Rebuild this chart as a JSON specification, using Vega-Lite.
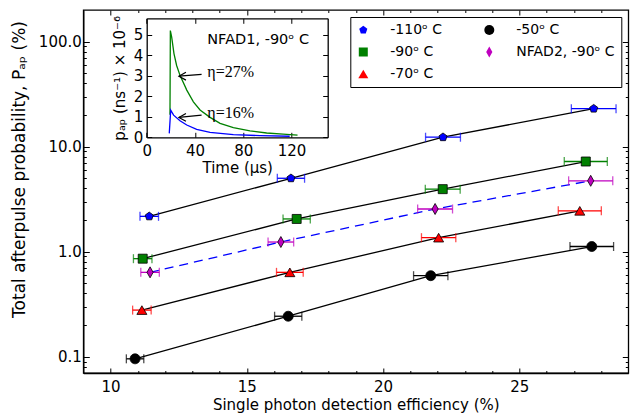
{
  "$schema": "https://vega.github.io/schema/vega-lite/v6.json",
  "width": 545,
  "height": 363,
  "autosize": {"type": "none"},
  "padding": {"left": 83.3, "top": 10, "right": 5.7, "bottom": 40},
  "background": "white",
  "config": {
    "font": "DejaVu Sans",
    "view": {"stroke": "black", "strokeWidth": 1.3},
    "axis": {
      "grid": false, "domainColor": "black", "tickColor": "black", "labelColor": "black",
      "titleColor": "black", "labelFontSize": 15, "titleFontSize": 15, "titleFontWeight": "normal",
      "domainWidth": 1.3, "tickWidth": 1, "labelFont": "DejaVu Sans", "titleFont": "DejaVu Sans",
      "labelFlush": false, "labelOverlap": false
    },
    "legend": {
      "orient": "top-right", "offset": 7, "columns": 2, "labelFontSize": 14, "labelFont": "DejaVu Sans", "labelColor": "black",
      "symbolSize": 100, "symbolStrokeColor": "black", "symbolStrokeWidth": 0.8, "strokeColor": "black", "fillColor": "white",
      "padding": 6, "labelOffset": 20, "columnPadding": 40, "rowPadding": 7, "cornerRadius": 0, "labelLimit": 300
    }
  },
  "datasets": {
    "pts": [
      {"series": "-110ᵒ C", "eff": 11.42, "pap": 2.17, "lo": 11.08, "hi": 11.76},
      {"series": "-110ᵒ C", "eff": 16.62, "pap": 5.0, "lo": 16.12, "hi": 17.12},
      {"series": "-110ᵒ C", "eff": 22.2, "pap": 12.3, "lo": 21.56, "hi": 22.84},
      {"series": "-110ᵒ C", "eff": 27.73, "pap": 23.0, "lo": 26.91, "hi": 28.55},
      {"series": "-90ᵒ C", "eff": 11.18, "pap": 0.858, "lo": 10.84, "hi": 11.52},
      {"series": "-90ᵒ C", "eff": 16.83, "pap": 2.05, "lo": 16.33, "hi": 17.33},
      {"series": "-90ᵒ C", "eff": 22.19, "pap": 3.94, "lo": 21.55, "hi": 22.83},
      {"series": "-90ᵒ C", "eff": 27.44, "pap": 7.22, "lo": 26.65, "hi": 28.23},
      {"series": "NFAD2, -90ᵒ C", "eff": 11.45, "pap": 0.636, "lo": 11.11, "hi": 11.79},
      {"series": "NFAD2, -90ᵒ C", "eff": 16.25, "pap": 1.236, "lo": 15.78, "hi": 16.72},
      {"series": "NFAD2, -90ᵒ C", "eff": 21.91, "pap": 2.55, "lo": 21.27, "hi": 22.55},
      {"series": "NFAD2, -90ᵒ C", "eff": 27.62, "pap": 4.73, "lo": 26.81, "hi": 28.43},
      {"series": "-70ᵒ C", "eff": 11.15, "pap": 0.278, "lo": 10.81, "hi": 11.49},
      {"series": "-70ᵒ C", "eff": 16.58, "pap": 0.636, "lo": 16.09, "hi": 17.07},
      {"series": "-70ᵒ C", "eff": 22.04, "pap": 1.36, "lo": 21.41, "hi": 22.67},
      {"series": "-70ᵒ C", "eff": 27.22, "pap": 2.45, "lo": 26.43, "hi": 28.01},
      {"series": "-50ᵒ C", "eff": 10.9, "pap": 0.0955, "lo": 10.58, "hi": 11.22},
      {"series": "-50ᵒ C", "eff": 16.52, "pap": 0.243, "lo": 16.02, "hi": 17.02},
      {"series": "-50ᵒ C", "eff": 21.75, "pap": 0.591, "lo": 21.12, "hi": 22.38},
      {"series": "-50ᵒ C", "eff": 27.66, "pap": 1.12, "lo": 26.86, "hi": 28.46}
    ],
    "curves": [
      {"c": "g", "t": 19.3, "v": 1.1}, {"c": "g", "t": 19.6, "v": 5.2}, {"c": "g", "t": 20.7, "v": 4.88},
      {"c": "g", "t": 22.6, "v": 4.08}, {"c": "g", "t": 24.8, "v": 3.5}, {"c": "g", "t": 27.6, "v": 3.02},
      {"c": "g", "t": 33.2, "v": 2.3}, {"c": "g", "t": 38.7, "v": 1.73}, {"c": "g", "t": 44.2, "v": 1.33},
      {"c": "g", "t": 52.5, "v": 0.97}, {"c": "g", "t": 60.8, "v": 0.68}, {"c": "g", "t": 71.8, "v": 0.47},
      {"c": "g", "t": 85.6, "v": 0.31}, {"c": "g", "t": 99.4, "v": 0.21}, {"c": "g", "t": 113, "v": 0.15},
      {"c": "g", "t": 125, "v": 0.11},
      {"c": "b", "t": 18.7, "v": 0.19}, {"c": "b", "t": 19.9, "v": 1.32}, {"c": "b", "t": 22.3, "v": 1.08},
      {"c": "b", "t": 27.6, "v": 0.81}, {"c": "b", "t": 33.2, "v": 0.6}, {"c": "b", "t": 41.4, "v": 0.39},
      {"c": "b", "t": 52.5, "v": 0.24}, {"c": "b", "t": 71.8, "v": 0.13}, {"c": "b", "t": 94, "v": 0.08},
      {"c": "b", "t": 118.5, "v": 0.05}
    ],
    "arrows": [
      {"t0": 45.5, "v0": 3.07, "t1": 26.7, "v1": 2.98},
      {"t0": 45.5, "v0": 1.08, "t1": 26.7, "v1": 0.97}
    ],
    "notes": [
      {"kind": "eta", "t": 50.2, "v": 3.17, "label": "η=27%"},
      {"kind": "eta", "t": 50.2, "v": 1.17, "label": "η=16%"},
      {"kind": "name", "t": 50.2, "v": 4.76, "label": "NFAD1, -90ᵒ C"}
    ]
  },
  "layer": [
    {
      "data": {"name": "pts"},
      "transform": [{"filter": "datum.series !== 'NFAD2, -90ᵒ C'"}],
      "mark": {"type": "line", "color": "black", "strokeWidth": 1.3},
      "encoding": {
        "x": {"field": "eff", "type": "quantitative", "scale": {"domain": [9, 29], "nice": false, "zero": false},
              "axis": {"orient": "bottom", "values": [10, 15, 20, 25], "format": "d", "tickSize": -5, "labelPadding": 11,
                       "title": "Single photon detection efficiency (%)", "titlePadding": 3}},
        "y": {"field": "pap", "type": "quantitative", "scale": {"type": "log", "domain": [0.07, 200], "nice": false},
              "axis": {"orient": "left", "values": [0.1, 1, 10, 100], "format": ".1f", "tickSize": -6, "labelPadding": 8,
                       "title": "Total afterpulse probability, Pₐₚ (%)", "titlePadding": 10, "titleFontSize": 17, "titleY": 159}},
        "detail": {"field": "series"}
      }
    },
    {
      "data": {"name": "pts"},
      "transform": [{"filter": "datum.series === 'NFAD2, -90ᵒ C'"}],
      "mark": {"type": "line", "color": "#0000ff", "strokeWidth": 1.3, "strokeDash": [9, 6]},
      "encoding": {
        "x": {"field": "eff", "type": "quantitative", "scale": {"domain": [9, 29], "nice": false, "zero": false},
              "axis": {"orient": "top", "values": [10, 15, 20, 25], "labels": false, "domain": false, "tickSize": -5, "title": null}},
        "y": {"field": "pap", "type": "quantitative", "scale": {"type": "log", "domain": [0.07, 200], "nice": false},
              "axis": {"orient": "right", "values": [0.1, 1, 10, 100], "labels": false, "domain": false, "tickSize": -6, "title": null}}
      }
    },
    {
      "data": {"name": "pts"},
      "mark": {"type": "rule", "strokeWidth": 1.3},
      "encoding": {
        "x": {"field": "lo", "type": "quantitative", "scale": {"domain": [9, 29], "nice": false, "zero": false},
              "axis": {"orient": "top", "values": [11, 12, 13, 14, 16, 17, 18, 19, 21, 22, 23, 24, 26, 27, 28], "labels": false, "domain": false, "tickSize": -2.5, "title": null}},
        "x2": {"field": "hi"},
        "y": {"field": "pap", "type": "quantitative", "scale": {"type": "log", "domain": [0.07, 200], "nice": false},
              "axis": {"orient": "right", "values": [0.08, 0.09, 0.2, 0.3, 0.4, 0.5, 0.6, 0.7, 0.8, 0.9, 2, 3, 4, 5, 6, 7, 8, 9, 20, 30, 40, 50, 60, 70, 80, 90], "labels": false, "domain": false, "tickSize": -3, "title": null}},
        "color": {"field": "series", "type": "nominal", "legend": null,
                  "scale": {"domain": ["-110ᵒ C", "-50ᵒ C", "-90ᵒ C", "NFAD2, -90ᵒ C", "-70ᵒ C"], "range": ["#0000ff", "#000000", "#008000", "#bf00bf", "#ff0000"]}}
      }
    },
    {
      "data": {"name": "pts"},
      "mark": {"type": "tick", "orient": "vertical", "size": 9, "thickness": 1.3},
      "encoding": {
        "x": {"field": "lo", "type": "quantitative", "scale": {"domain": [9, 29], "nice": false, "zero": false}, "axis": null},
        "y": {"field": "pap", "type": "quantitative", "scale": {"type": "log", "domain": [0.07, 200], "nice": false}, "axis": null},
        "color": {"field": "series", "type": "nominal", "legend": null,
                  "scale": {"domain": ["-110ᵒ C", "-50ᵒ C", "-90ᵒ C", "NFAD2, -90ᵒ C", "-70ᵒ C"], "range": ["#0000ff", "#000000", "#008000", "#bf00bf", "#ff0000"]}}
      }
    },
    {
      "data": {"name": "pts"},
      "mark": {"type": "tick", "orient": "vertical", "size": 9, "thickness": 1.3},
      "encoding": {
        "x": {"field": "hi", "type": "quantitative", "scale": {"domain": [9, 29], "nice": false, "zero": false}, "axis": null},
        "y": {"field": "pap", "type": "quantitative", "scale": {"type": "log", "domain": [0.07, 200], "nice": false}, "axis": null},
        "color": {"field": "series", "type": "nominal", "legend": null,
                  "scale": {"domain": ["-110ᵒ C", "-50ᵒ C", "-90ᵒ C", "NFAD2, -90ᵒ C", "-70ᵒ C"], "range": ["#0000ff", "#000000", "#008000", "#bf00bf", "#ff0000"]}}
      }
    },
    {
      "data": {"name": "pts"},
      "mark": {"type": "point", "filled": true, "stroke": "black", "strokeWidth": 0.8, "size": 100, "opacity": 1},
      "encoding": {
        "x": {"field": "eff", "type": "quantitative", "scale": {"domain": [9, 29], "nice": false, "zero": false},
              "axis": {"orient": "bottom", "values": [11, 12, 13, 14, 16, 17, 18, 19, 21, 22, 23, 24, 26, 27, 28], "labels": false, "domain": false, "tickSize": -2.5, "title": null}},
        "y": {"field": "pap", "type": "quantitative", "scale": {"type": "log", "domain": [0.07, 200], "nice": false},
              "axis": {"orient": "left", "values": [0.08, 0.09, 0.2, 0.3, 0.4, 0.5, 0.6, 0.7, 0.8, 0.9, 2, 3, 4, 5, 6, 7, 8, 9, 20, 30, 40, 50, 60, 70, 80, 90], "labels": false, "domain": false, "tickSize": -3, "title": null}},
        "fill": {"field": "series", "type": "nominal", "title": null,
                 "scale": {"domain": ["-110ᵒ C", "-90ᵒ C", "-70ᵒ C", "-50ᵒ C", "NFAD2, -90ᵒ C"], "range": ["#0000ff", "#008000", "#ff0000", "#000000", "#bf00bf"]},
                 "legend": {"orient": "top-right"}},
        "shape": {"field": "series", "type": "nominal", "title": null,
                  "scale": {"domain": ["-110ᵒ C", "-90ᵒ C", "-70ᵒ C", "-50ᵒ C", "NFAD2, -90ᵒ C"],
                            "range": ["M0,-0.85L0.81,-0.26L0.5,0.69L-0.5,0.69L-0.81,-0.26Z", "M-0.9,-0.9L0.9,-0.9L0.9,0.9L-0.9,0.9Z", "triangle-up", "circle", "M0,-1.1L0.62,0L0,1.1L-0.62,0Z"]},
                  "legend": {"orient": "top-right"}}
      }
    },
    {
      "data": {"name": "curves"},
      "transform": [{"filter": "datum.c === 'g'"}],
      "mark": {"type": "line", "color": "#008000", "strokeWidth": 1.3},
      "encoding": {
        "x": {"field": "t", "type": "quantitative", "scale": {"domain": [0, 150], "range": [63.4, 244.4], "nice": false, "zero": false},
              "axis": {"orient": "bottom", "offset": -235.7, "values": [0, 40, 80, 120], "tickSize": -5, "labelPadding": 11, "title": "Time (μs)", "titlePadding": 2}},
        "y": {"field": "v", "type": "quantitative", "scale": {"domain": [0, 5.8], "range": [127.3, 8.3], "nice": false, "zero": false},
              "axis": {"orient": "left", "offset": -63.4, "values": [0, 1, 2, 3, 4, 5], "tickSize": -5, "labelPadding": 9, "title": "pₐₚ (ns⁻¹) × 10⁻⁶", "titlePadding": 6}}
      }
    },
    {
      "data": {"name": "curves"},
      "transform": [{"filter": "datum.c === 'b'"}],
      "mark": {"type": "line", "color": "#0000ff", "strokeWidth": 1.3},
      "encoding": {
        "x": {"field": "t", "type": "quantitative", "scale": {"domain": [0, 150], "range": [63.4, 244.4], "nice": false, "zero": false},
              "axis": {"orient": "top", "offset": -8.3, "values": [0, 40, 80, 120], "tickSize": -5, "labels": false, "title": null}},
        "y": {"field": "v", "type": "quantitative", "scale": {"domain": [0, 5.8], "range": [127.3, 8.3], "nice": false, "zero": false},
              "axis": {"orient": "right", "offset": -300.6, "values": [0, 1, 2, 3, 4, 5], "tickSize": -5, "labels": false, "title": null}}
      }
    },
    {
      "data": {"name": "arrows"},
      "mark": {"type": "rule", "color": "black", "strokeWidth": 1.2},
      "encoding": {
        "x": {"field": "t0", "type": "quantitative", "scale": {"domain": [0, 150], "range": [63.4, 244.4], "nice": false, "zero": false}, "axis": null},
        "y": {"field": "v0", "type": "quantitative", "scale": {"domain": [0, 5.8], "range": [127.3, 8.3], "nice": false, "zero": false}, "axis": null},
        "x2": {"field": "t1"},
        "y2": {"field": "v1"}
      }
    },
    {
      "data": {"name": "arrows"},
      "mark": {"type": "point", "shape": "M1.6,-0.9L0,0L1.6,0.9", "filled": false, "stroke": "black", "strokeWidth": 1.2, "size": 77, "opacity": 1},
      "encoding": {
        "x": {"field": "t1", "type": "quantitative", "scale": {"domain": [0, 150], "range": [63.4, 244.4], "nice": false, "zero": false}, "axis": null},
        "y": {"field": "v1", "type": "quantitative", "scale": {"domain": [0, 5.8], "range": [127.3, 8.3], "nice": false, "zero": false}, "axis": null}
      }
    },
    {
      "data": {"name": "notes"},
      "transform": [{"filter": "datum.kind === 'eta'"}],
      "mark": {"type": "text", "font": "Liberation Serif", "fontSize": 16, "align": "left", "baseline": "middle", "color": "black"},
      "encoding": {
        "x": {"field": "t", "type": "quantitative", "scale": {"domain": [0, 150], "range": [63.4, 244.4], "nice": false, "zero": false}, "axis": null},
        "y": {"field": "v", "type": "quantitative", "scale": {"domain": [0, 5.8], "range": [127.3, 8.3], "nice": false, "zero": false}, "axis": null},
        "text": {"field": "label"}
      }
    },
    {
      "data": {"name": "notes"},
      "transform": [{"filter": "datum.kind === 'name'"}],
      "mark": {"type": "text", "font": "DejaVu Sans", "fontSize": 14.5, "align": "left", "baseline": "middle", "color": "black"},
      "encoding": {
        "x": {"field": "t", "type": "quantitative", "scale": {"domain": [0, 150], "range": [63.4, 244.4], "nice": false, "zero": false}, "axis": null},
        "y": {"field": "v", "type": "quantitative", "scale": {"domain": [0, 5.8], "range": [127.3, 8.3], "nice": false, "zero": false}, "axis": null},
        "text": {"field": "label"}
      }
    }
  ],
  "resolve": {"scale": {"x": "independent", "y": "independent"}, "axis": {"x": "independent", "y": "independent"}}
}
